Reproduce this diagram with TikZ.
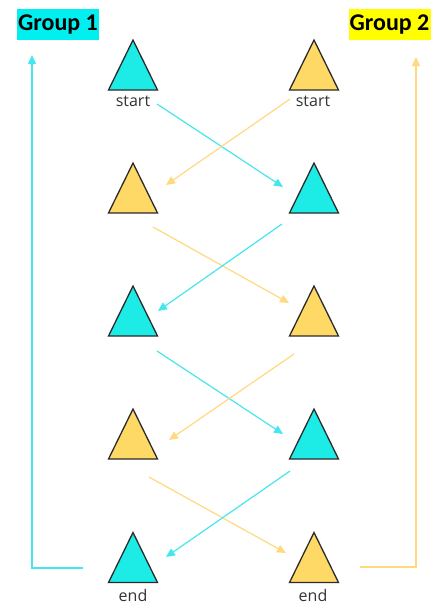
\documentclass[tikz,border=0pt]{standalone}
\usepackage{fontspec}
\setmainfont{Open Sans}
\newfontfamily\grpfont{Carlito}
\usetikzlibrary{arrows.meta}
\definecolor{cyfill}{HTML}{1DEBE6}
\definecolor{ylfill}{HTML}{FFD966}
\definecolor{cyline}{HTML}{45E6EE}
\definecolor{ylline}{HTML}{FFD97F}
\definecolor{hlcyan}{HTML}{00F0F0}
\definecolor{hlyellow}{HTML}{FFFF00}
\definecolor{outl}{HTML}{2B2B2B}
\begin{document}
\begin{tikzpicture}[x=1pt,y=-1pt,
  trinode/.style={minimum width=49pt,minimum height=50pt,inner sep=0pt,outer sep=0pt},
  cytri/.style={fill=cyfill,draw=outl,line width=1.3pt,line join=miter},
  yltri/.style={fill=ylfill,draw=outl,line width=1.3pt,line join=miter},
  cyarr/.style={draw=cyline,line width=1.2pt,-{Triangle[length=9pt,width=8pt]}},
  ylarr/.style={draw=ylline,line width=1.2pt,-{Triangle[length=9pt,width=8pt]}},
  lbl/.style={font=\fontsize{16}{19}\selectfont,text=black!80,inner sep=0pt},
  grp/.style={font=\grpfont\bfseries\fontsize{24}{26}\selectfont,inner sep=0pt,minimum height=31pt,minimum width=82pt}
]
\useasboundingbox (0,0) rectangle (439,605);
% triangle nodes
\foreach \n/\x/\y in {L1/133/65,L2/133/188,L3/133/311,L4/133/434,L5/133/557.5,
                      R1/314/65,R2/314/188,R3/314/311,R4/314/434,R5/314/557.5}{
  \node[trinode] (\n) at (\x,\y) {};
}
\foreach \n in {L1,R2,L3,R4,L5}{
  \draw[cytri] (\n.north) -- (\n.south east) -- (\n.south west) -- cycle;
}
\foreach \n in {R1,L2,R3,L4,R5}{
  \draw[yltri] (\n.north) -- (\n.south east) -- (\n.south west) -- cycle;
}
% labels
\node[lbl] (s1) at (133,101) {start};
\node[lbl] (s2) at (313,101) {start};
\node[lbl] (e1) at (133,595) {end};
\node[lbl] (e2) at (313,595) {end};
\node[grp,fill=hlcyan] (g1) at (58,24.5) {Group 1};
\node[grp,fill=hlyellow] (g2) at (389.5,24.5) {Group 2};
% arrow endpoints
\coordinate (a1s) at (157,104); \coordinate (a1e) at (283,187);
\coordinate (b1s) at (290,99);  \coordinate (b1e) at (166,185);
\coordinate (a2s) at (153,227); \coordinate (a2e) at (289,303);
\coordinate (b2s) at (282,224); \coordinate (b2e) at (158,311);
\coordinate (a3s) at (157,351); \coordinate (a3e) at (283,434);
\coordinate (b3s) at (294,354); \coordinate (b3e) at (169,440);
\coordinate (a4s) at (149,477); \coordinate (a4e) at (286,553);
\coordinate (b4s) at (290,471); \coordinate (b4e) at (166,557);
\draw[cyarr] (a1s) -- (a1e);
\draw[ylarr] (b1s) -- (b1e);
\draw[ylarr] (a2s) -- (a2e);
\draw[cyarr] (b2s) -- (b2e);
\draw[cyarr] (a3s) -- (a3e);
\draw[ylarr] (b3s) -- (b3e);
\draw[ylarr] (a4s) -- (a4e);
\draw[cyarr] (b4s) -- (b4e);
% group loops
\coordinate (c1s) at (83,568); \coordinate (c1m) at (32,568); \coordinate (c1e) at (32,55);
\coordinate (c2s) at (360,567); \coordinate (c2m) at (416,567); \coordinate (c2e) at (416,57);
\draw[cyarr] (c1s) -- (c1m) -- (c1e);
\draw[ylarr] (c2s) -- (c2m) -- (c2e);
\end{tikzpicture}
\end{document}
